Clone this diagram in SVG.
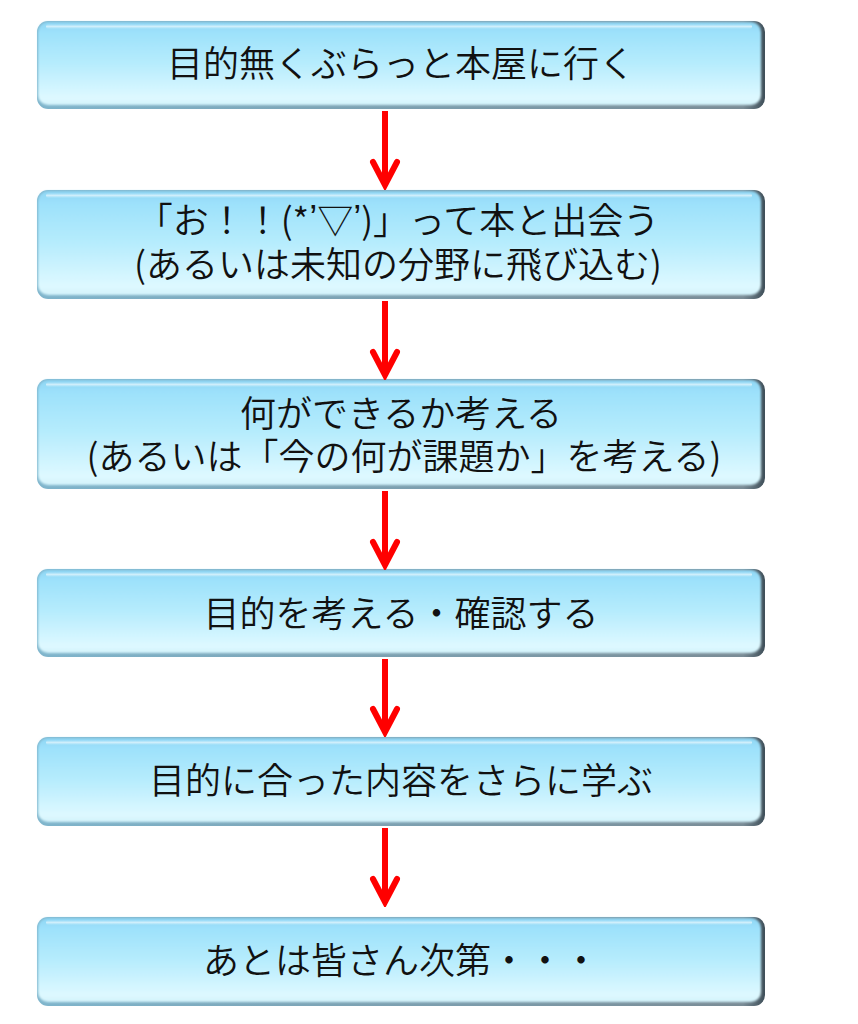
<svg xmlns="http://www.w3.org/2000/svg" width="858" height="1024" viewBox="0 0 858 1024">
<defs>
  <linearGradient id="body" x1="0" y1="0" x2="0" y2="1">
    <stop offset="0" stop-color="#8fd6f4"/>
    <stop offset="0.12" stop-color="#9de1fb"/>
    <stop offset="0.5" stop-color="#b6ecfd"/>
    <stop offset="0.92" stop-color="#def9ff"/>
    <stop offset="1" stop-color="#d2f2fb"/>
  </linearGradient>
  <linearGradient id="edge" x1="0" y1="0" x2="1" y2="0">
    <stop offset="0" stop-color="#7fb5cc"/>
    <stop offset="0.97" stop-color="#7a8c96"/>
    <stop offset="1" stop-color="#3e4e58"/>
  </linearGradient>
  <linearGradient id="hl" x1="0" y1="0" x2="0" y2="1">
    <stop offset="0" stop-color="#ffffff" stop-opacity="0"/>
    <stop offset="0.5" stop-color="#ffffff" stop-opacity="0.55"/>
    <stop offset="1" stop-color="#ffffff" stop-opacity="0"/>
  </linearGradient>
  <filter id="soft" x="-5%" y="-20%" width="110%" height="140%">
    <feGaussianBlur stdDeviation="1.2"/>
  </filter>
  <marker id="ah" viewBox="-30 -16 34 32" refX="0" refY="0" markerWidth="34" markerHeight="32" markerUnits="userSpaceOnUse" orient="auto">
    <path d="M-24,-12 L-1,0 L-24,12" fill="none" stroke="#ff0000" stroke-width="6" stroke-linecap="round" stroke-linejoin="miter"/>
  </marker>
  <style>
    .edge { fill: url(#edge); }
    .body { fill: url(#body); filter: url(#soft); }
    .hl { fill: url(#hl); }
    .t { font-family: "Noto Sans CJK JP", sans-serif; font-weight: 350; font-size: 36px; fill: #111; text-anchor: middle; dominant-baseline: central; }
    .q { font-family: "Liberation Sans", sans-serif; }
    .arrow { stroke: #ff0000; stroke-width: 6; fill: none; marker-end: url(#ah); }
  </style>
</defs>
<rect width="858" height="1024" fill="#ffffff"/>

<g id="node1">
  <rect class="edge" x="37" y="21" width="728" height="88" rx="11"/>
  <rect class="body" x="38" y="22" width="723" height="83" rx="10"/>
  <rect class="hl" x="46" y="24" width="706" height="5" rx="2.5"/>
  <text class="t" x="401" y="61">目的無くぶらっと本屋に行く</text>
</g>

<g id="node2">
  <rect class="edge" x="37" y="190" width="728" height="109" rx="11"/>
  <rect class="body" x="38" y="191" width="723" height="104" rx="10"/>
  <rect class="hl" x="46" y="193" width="706" height="5" rx="2.5"/>
  <text class="t" x="398" y="218">「お！！(*<tspan class="q">’</tspan>▽<tspan class="q">’</tspan>)」って本と出会う</text>
  <text class="t" x="398" y="262">(あるいは未知の分野に飛び込む)</text>
</g>

<g id="node3">
  <rect class="edge" x="37" y="379" width="728" height="110" rx="11"/>
  <rect class="body" x="38" y="380" width="723" height="105" rx="10"/>
  <rect class="hl" x="46" y="382" width="706" height="5" rx="2.5"/>
  <text class="t" x="401" y="411">何ができるか考える</text>
  <text class="t" x="404" y="454">(あるいは「今の何が課題か」を考える)</text>
</g>

<g id="node4">
  <rect class="edge" x="37" y="569" width="728" height="88" rx="11"/>
  <rect class="body" x="38" y="570" width="723" height="83" rx="10"/>
  <rect class="hl" x="46" y="572" width="706" height="5" rx="2.5"/>
  <text class="t" x="401" y="611">目的を考える・確認する</text>
</g>

<g id="node5">
  <rect class="edge" x="37" y="737" width="728" height="89" rx="11"/>
  <rect class="body" x="38" y="738" width="723" height="84" rx="10"/>
  <rect class="hl" x="46" y="740" width="706" height="5" rx="2.5"/>
  <text class="t" x="401" y="778">目的に合った内容をさらに学ぶ</text>
</g>

<g id="node6">
  <rect class="edge" x="37" y="917" width="728" height="89" rx="11"/>
  <rect class="body" x="38" y="918" width="723" height="84" rx="10"/>
  <rect class="hl" x="46" y="920" width="706" height="5" rx="2.5"/>
  <text class="t" x="401" y="958">あとは皆さん次第・・・</text>
</g>

<g id="connectors">
  <line class="arrow" x1="385" y1="111" x2="385" y2="186"/>
  <line class="arrow" x1="385" y1="301" x2="385" y2="376"/>
  <line class="arrow" x1="385" y1="491" x2="385" y2="566"/>
  <line class="arrow" x1="385" y1="659" x2="385" y2="733"/>
  <line class="arrow" x1="385" y1="828" x2="385" y2="903"/>
</g>
</svg>
